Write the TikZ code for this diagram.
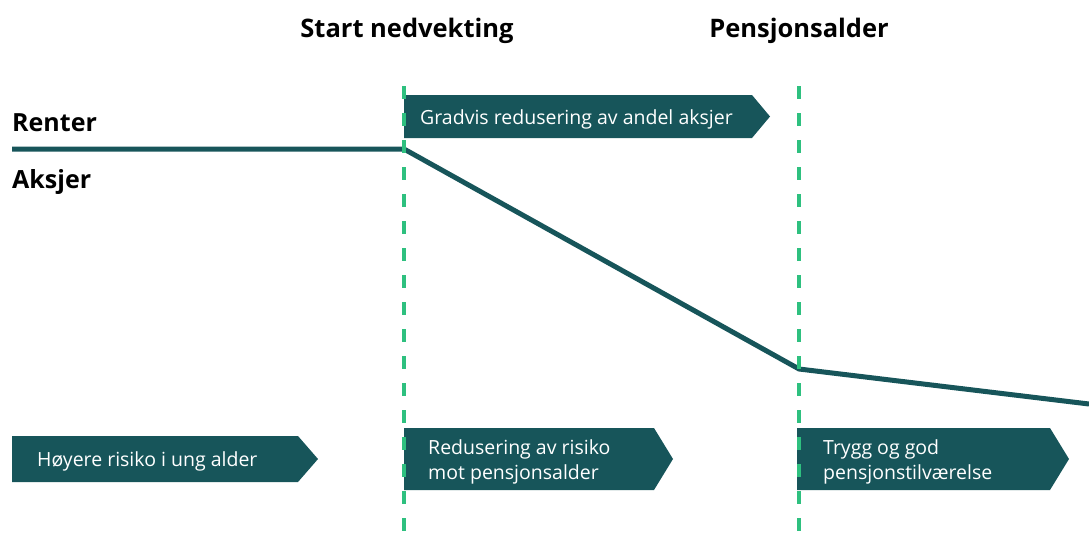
\documentclass[tikz,border=0pt]{standalone}
\usepackage{fontspec}
\setmainfont{Open Sans}
\definecolor{tealdark}{HTML}{17555A}
\definecolor{markgreen}{HTML}{2EC07F}
\tikzset{
  banner/.style={fill=tealdark},
  bannertext/.style={text=white,font=\fontsize{19.5}{25}\selectfont,anchor=west,align=left,inner sep=0pt},
  phase/.style={font=\fontsize{25.5}{30}\selectfont\bfseries,inner sep=0pt},
  asset/.style={font=\fontsize{25}{30}\selectfont\bfseries,anchor=west,inner sep=0pt},
  markline/.style={markgreen,line width=3.5pt,dash pattern=on 13pt off 14pt}
}
\begin{document}
\begin{tikzpicture}[x=1pt,y=-1pt]
    \useasboundingbox (0,0) rectangle (1089,533);
    % banners
    \fill[banner] (404,95) -- (752,95) -- (770,116.5) -- (752,138) -- (404,138) -- cycle;
    \fill[banner] (12,436) -- (298,436) -- (318,459) -- (298,482) -- (12,482) -- cycle;
    \fill[banner] (404,428) -- (654,428) -- (673,459) -- (654,490) -- (404,490) -- cycle;
    \fill[banner] (797,428) -- (1050,428) -- (1069,459) -- (1050,490) -- (797,490) -- cycle;
    \node[bannertext] (gradvis) at (420,119.5) {Gradvis redusering av andel aksjer};
    \node[bannertext] (ung) at (37,461.5) {Høyere risiko i ung alder};
    \node[bannertext] (redusering) at (428,461.5) {Redusering av risiko\\mot pensjonsalder};
    \node[bannertext] (trygg) at (823,461.5) {Trygg og god\\pensjonstilværelse};
    % allocation line
    \coordinate (l0) at (12,149);
    \coordinate (l1) at (404,149);
    \coordinate (l2) at (799,369);
    \coordinate (l3) at (1089,404);
    \draw[tealdark,line width=5pt] (l0) -- (l1) -- (l2) -- (l3);
    \node[asset] (renter) at (12,123) {Renter};
    \node[asset] (aksjer) at (12,182) {Aksjer};
    % phase markers
    \node[phase] (start) at (407,31) {Start nedvekting};
    \node[phase] (pensjon) at (799,31) {Pensjonsalder};
    \coordinate (s0) at (404,86);
    \coordinate (s1) at (404,533);
    \coordinate (p0) at (799,86);
    \coordinate (p1) at (799,533);
    \draw[markline] (s0) -- (s1);
    \draw[markline] (p0) -- (p1);
\end{tikzpicture}
\end{document}
